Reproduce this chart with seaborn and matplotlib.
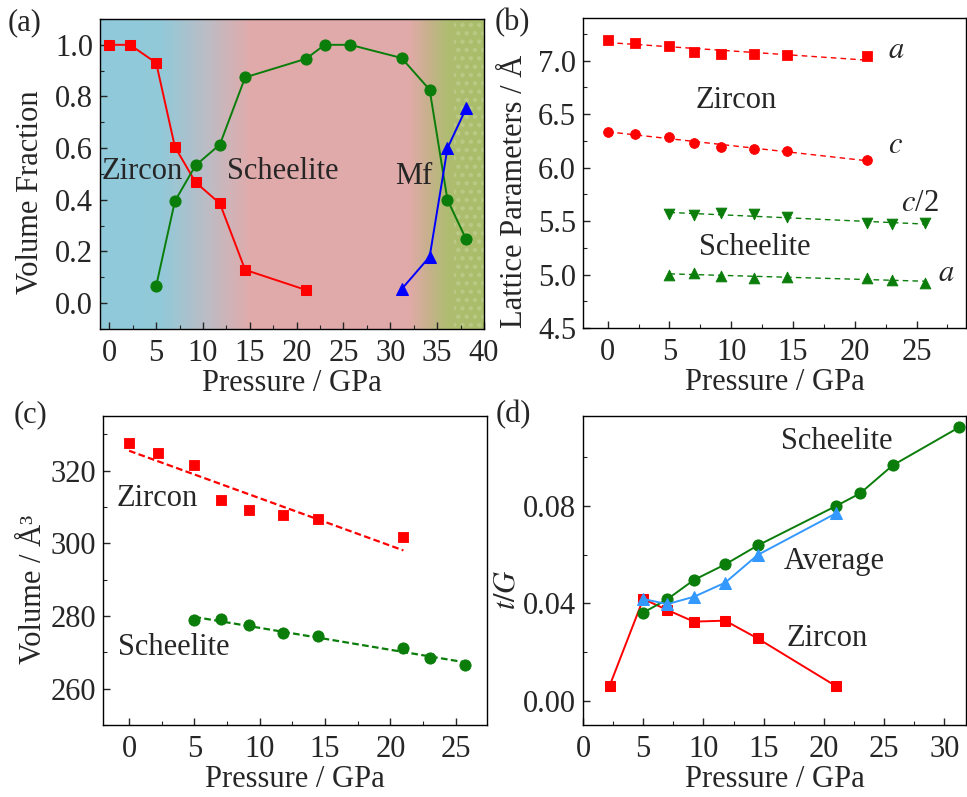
import matplotlib
matplotlib.use('Agg')
import matplotlib.pyplot as plt
import numpy as np
import seaborn as sns
from matplotlib.colors import LinearSegmentedColormap
from matplotlib.ticker import MultipleLocator, AutoMinorLocator, FormatStrFormatter

## data
# (a) volume fractions
p_zr_a = [0, 2.2, 5.0, 7.0, 9.2, 11.8, 14.5, 21.0]
vf_zr = [1.0, 1.0, 0.93, 0.605, 0.468, 0.386, 0.129, 0.051]
p_sc_a = [5.0, 7.0, 9.2, 11.8, 14.5, 21.0, 23.0, 25.7, 31.2, 34.2, 36.1, 38.1]
vf_sc = [0.067, 0.395, 0.533, 0.614, 0.874, 0.946, 1.0, 1.0, 0.949, 0.826, 0.40, 0.247]
p_mf = [31.2, 34.2, 36.1, 38.1]
vf_mf = [0.054, 0.18, 0.60, 0.755]

# (b) lattice parameters
p_zr = [0, 2.2, 5.0, 7.0, 9.2, 11.8, 14.5, 21.0]
zr_a = [7.197, 7.17, 7.14, 7.08, 7.066, 7.06, 7.05, 7.04]
zr_c = [6.332, 6.316, 6.29, 6.234, 6.194, 6.175, 6.156, 6.07]
p_sc = [5.0, 7.0, 9.2, 11.8, 14.5, 21.0, 23.0, 25.7]
sc_c2 = [5.563, 5.556, 5.58, 5.57, 5.535, 5.48, 5.47, 5.485]
sc_a = [5.0, 5.015, 4.985, 4.97, 4.98, 4.97, 4.947, 4.925]

# (c) volume
zr_v = [327.7, 324.8, 321.6, 312.0, 309.1, 307.7, 306.7, 301.7]
sc_v = [278.8, 279.1, 277.4, 275.3, 274.6, 271.2, 268.5, 266.5]

# (d) t/G
p_zr_d = [2.2, 5.0, 7.0, 9.2, 11.8, 14.5, 21.0]
tg_zr = [0.006, 0.0418, 0.0373, 0.0325, 0.0329, 0.0256, 0.006]
p_sc_d = [5.0, 7.0, 9.2, 11.8, 14.5, 21.0, 23.0, 25.7, 31.2]
tg_sc = [0.0362, 0.0417, 0.0496, 0.056, 0.0638, 0.080, 0.0852, 0.0967, 0.1123]
p_av_d = [5.0, 7.0, 9.2, 11.8, 14.5, 21.0]
tg_av = [0.0418, 0.0397, 0.0427, 0.0485, 0.0599, 0.077]

RED = '#ff0000'
GREEN = '#0a7d0a'
BLUE = '#0000ff'
LBLUE = '#3399ff'

sns.set_theme(style='ticks')
plt.rcParams['font.family'] = ['Liberation Serif', 'DejaVu Serif']
plt.rcParams['mathtext.fontset'] = 'stix'
FS = 22
plt.rcParams.update({
    'font.size': FS,
    'axes.linewidth': 1.0,
    'axes.edgecolor': 'black',
    'xtick.direction': 'in', 'ytick.direction': 'in',
    'xtick.major.size': 5, 'ytick.major.size': 5,
    'xtick.minor.size': 3, 'ytick.minor.size': 3,
    'xtick.major.width': 1, 'ytick.major.width': 1,
    'xtick.minor.width': 0.8, 'ytick.minor.width': 0.8,
    'xtick.labelsize': FS, 'ytick.labelsize': FS,
    'axes.labelsize': FS,
    'xtick.major.pad': 7, 'ytick.major.pad': 5,
    'hatch.linewidth': 2.0,
})

fig = plt.figure(figsize=(9.67, 7.97), dpi=100)
ax_a = fig.add_axes([0.1034, 0.5872, 0.3971, 0.3890])
ax_b = fig.add_axes([0.6029, 0.5885, 0.3961, 0.3890])
ax_c = fig.add_axes([0.1065, 0.0903, 0.3971, 0.3877])
ax_d = fig.add_axes([0.6029, 0.0903, 0.3961, 0.3877])


def style(ax, xmaj, ymaj, ylabel, lx=-0.142):
    ax.xaxis.set_major_locator(MultipleLocator(xmaj))
    ax.yaxis.set_major_locator(MultipleLocator(ymaj))
    ax.xaxis.set_minor_locator(AutoMinorLocator(2))
    ax.yaxis.set_minor_locator(AutoMinorLocator(2))
    ax.tick_params(which='both', top=False, right=False)
    ax.set_xlabel('Pressure / GPa', labelpad=1)
    ax.set_ylabel(ylabel)
    ax.yaxis.set_label_coords(lx, 0.44)


## (a) background gradient: zircon blue -> scheelite pink -> Mf olive
cmap = LinearSegmentedColormap.from_list('bg', [
    (0.0, '#8fcadb'), (0.16, '#92c9d9'), (0.28, '#bdbcc5'), (0.39, '#e1abab'),
    (0.805, '#e2aaaa'), (0.855, '#c9b08f'), (0.91, '#aebd70'), (1.0, '#a9bd6a')])
grad = np.linspace(0, 1, 500).reshape(1, -1)
ax_a.imshow(grad, cmap=cmap, aspect='auto', extent=[-1, 40, -0.1, 1.1], zorder=0)
ax_a.fill_between([36.8, 40], -0.1, 1.1, facecolor='none', edgecolor='#c6d49a',
                  hatch='..', linewidth=0, zorder=0.5, alpha=0.5)
sns.lineplot(x=p_zr_a, y=vf_zr, ax=ax_a, color=RED, marker='s', markersize=7.5,
             markeredgecolor=RED, lw=1.4)
sns.lineplot(x=p_sc_a, y=vf_sc, ax=ax_a, color=GREEN, marker='o', markersize=8,
             markeredgecolor=GREEN, lw=1.4)
sns.lineplot(x=p_mf, y=vf_mf, ax=ax_a, color=BLUE, marker='^', markersize=9,
             markeredgecolor=BLUE, lw=1.4)
ax_a.set_xlim(-1, 40)
ax_a.set_ylim(-0.1, 1.1)
style(ax_a, 5, 0.2, 'Volume Fraction')
ax_a.text(-0.8, 0.51, 'Zircon', fontsize=FS, va='center', ha='left')
ax_a.text(12.6, 0.51, 'Scheelite', fontsize=FS, va='center', ha='left')
ax_a.text(30.5, 0.49, 'Mf', fontsize=FS, va='center', ha='left')

## (b)
for yv, mk, col in [(zr_a, 's', RED), (zr_c, 'o', RED)]:
    sns.regplot(x=p_zr, y=yv, ax=ax_b, scatter=False, ci=None, color=col,
                line_kws=dict(ls=(0, (4, 3)), lw=1.0))
    sns.scatterplot(x=p_zr, y=yv, ax=ax_b, marker=mk, color=col, s=50,
                    edgecolor=col, zorder=3)
for yv, mk in [(sc_c2, 'v'), (sc_a, '^')]:
    sns.regplot(x=p_sc, y=yv, ax=ax_b, scatter=False, ci=None, color=GREEN,
                line_kws=dict(ls=(0, (4, 3)), lw=1.0))
    sns.scatterplot(x=p_sc, y=yv, ax=ax_b, marker=mk, color=GREEN, s=60,
                    edgecolor=GREEN, zorder=3)
ax_b.set_xlim(-2, 29)
ax_b.set_ylim(4.5, 7.4)
style(ax_b, 5, 0.5, 'Lattice Parameters / Å')
ax_b.yaxis.set_major_formatter(FormatStrFormatter('%.1f'))
ax_b.text(22.7, 7.10, '$a$', fontsize=FS, va='center')
ax_b.text(22.7, 6.21, '$c$', fontsize=FS, va='center')
ax_b.text(25.3, 5.66, '$c$/2', fontsize=FS, va='center', ha='center')
ax_b.text(26.7, 5.01, '$a$', fontsize=FS, va='center')
ax_b.text(10.4, 6.63, 'Zircon', fontsize=FS, va='center', ha='center')
ax_b.text(11.9, 5.25, 'Scheelite', fontsize=FS, va='center', ha='center')

## (c)
sns.regplot(x=p_zr, y=zr_v, ax=ax_c, scatter=False, ci=None, color=RED,
            line_kws=dict(ls=(0, (3, 1.5)), lw=1.6))
sns.scatterplot(x=p_zr, y=zr_v, ax=ax_c, marker='s', color=RED, s=60,
                edgecolor=RED, zorder=3)
sns.regplot(x=p_sc, y=sc_v, ax=ax_c, scatter=False, ci=None, color=GREEN,
            line_kws=dict(ls=(0, (3, 1.5)), lw=1.6))
sns.scatterplot(x=p_sc, y=sc_v, ax=ax_c, marker='o', color=GREEN, s=65,
                edgecolor=GREEN, zorder=3)
ax_c.set_xlim(-2, 27.4)
ax_c.set_ylim(250, 335)
style(ax_c, 5, 20, 'Volume / Å³')
ax_c.text(-0.95, 312.3, 'Zircon', fontsize=FS, va='center', ha='left')
ax_c.text(-0.85, 271.2, 'Scheelite', fontsize=FS, va='center', ha='left')

## (d)
sns.lineplot(x=p_zr_d, y=tg_zr, ax=ax_d, color=RED, marker='s', markersize=7.5,
             markeredgecolor=RED, lw=1.4)
sns.lineplot(x=p_sc_d, y=tg_sc, ax=ax_d, color=GREEN, marker='o', markersize=8,
             markeredgecolor=GREEN, lw=1.4)
sns.lineplot(x=p_av_d, y=tg_av, ax=ax_d, color=LBLUE, marker='^', markersize=9,
             markeredgecolor=LBLUE, lw=1.4)
ax_d.set_xlim(0, 31.8)
ax_d.set_ylim(-0.010, 0.117)
style(ax_d, 5, 0.04, '$t/G$', lx=-0.16)
ax_d.yaxis.set_major_formatter(FormatStrFormatter('%.2f'))
ax_d.text(16.4, 0.1064, 'Scheelite', fontsize=FS, va='center', ha='left')
ax_d.text(16.7, 0.0571, 'Average', fontsize=FS, va='center', ha='left')
ax_d.text(16.9, 0.0256, 'Zircon', fontsize=FS, va='center', ha='left')

## panel labels
fig.text(0.008, 0.972, '(a)', fontsize=FS, va='center')
fig.text(0.511, 0.972, '(b)', fontsize=FS, va='center')
fig.text(0.014, 0.48, '(c)', fontsize=FS, va='center')
fig.text(0.513, 0.48, '(d)', fontsize=FS, va='center')

fig.savefig('out.png', dpi=100)
